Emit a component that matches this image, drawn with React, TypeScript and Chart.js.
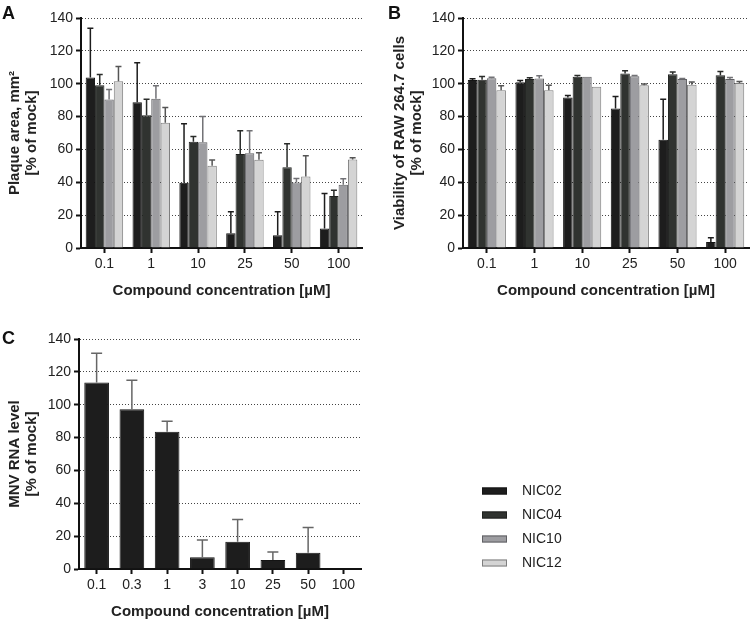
import React, { useEffect, useRef } from "react";
import { Chart, registerables } from "chart.js";

Chart.register(...registerables);

const FONT = "'Liberation Sans', Arial, Helvetica, sans-serif";

// ---- series ----
const seriesNames = ["NIC02", "NIC04", "NIC10", "NIC12"];
const seriesFill = ["#1d1d1d", "#303330", "#9d9da1", "#d4d4d4"];
const seriesBorder = ["#141414", "#1f211f", "#606064", "#7e7e7e"];
const seriesError = ["#1d1d1d", "#2a2c2a", "#727276", "#555555"];

// ---- categories ----
const concentrationsAB = ["0.1", "1", "10", "25", "50", "100"];
const concentrationsC = ["0.1", "0.3", "1", "3", "10", "25", "50", "100"];

// ---- panel A: plaque area [% of mock] ----
const plaqueNIC02 = [103.8, 88.7, 39.7, 9.0, 7.7, 11.8];
const plaqueNIC04 = [99.1, 80.8, 64.7, 57.2, 49.2, 31.7];
const plaqueNIC10 = [90.4, 90.8, 64.3, 57.6, 39.9, 38.5];
const plaqueNIC12 = [101.5, 76.3, 50.1, 53.7, 43.5, 53.9];
const plaqueErrNIC02 = [29.9, 24.0, 36.0, 13.0, 14.3, 21.4];
const plaqueErrNIC04 = [6.5, 9.8, 3.1, 14.2, 14.3, 3.5];
const plaqueErrNIC10 = [6.1, 7.9, 15.7, 13.8, 2.4, 3.6];
const plaqueErrNIC12 = [9.0, 9.2, 3.4, 4.3, 12.7, 1.0];

// ---- panel B: viability [% of mock] ----
const viabilityNIC02 = [102.2, 100.9, 91.6, 84.9, 65.9, 3.7];
const viabilityNIC04 = [102.4, 102.8, 104.2, 106.2, 105.8, 105.2];
const viabilityNIC10 = [103.4, 103.2, 104.2, 104.6, 102.8, 102.8];
const viabilityNIC12 = [96.0, 96.0, 98.1, 99.1, 99.3, 100.5];
const viabilityErrNIC02 = [0.8, 1.1, 1.2, 7.3, 24.7, 2.6];
const viabilityErrNIC04 = [2.0, 0.8, 0.8, 1.7, 1.4, 2.2];
const viabilityErrNIC10 = [0.6, 1.6, 0.0, 0.4, 0.4, 1.0];
const viabilityErrNIC12 = [2.7, 3.0, 0.0, 0.8, 1.7, 0.8];

// ---- panel C: MNV RNA level [% of mock], NIC02 ----
const rnaNIC02 = [113.5, 97.2, 83.5, 7.1, 16.6, 5.5, 9.9, 0];
const rnaErrNIC02 = [17.8, 17.7, 6.5, 10.5, 13.6, 4.8, 15.4, 0];

// ---- axis ----
const yMin = 0;
const yMax = 140;
const yStep = 20;

const xTitle = "Compound concentration [µM]";
const yTitleA = ["Plaque area, mm²", "[% of mock]"];
const yTitleB = ["Viability of RAW 264.7 cells", "[% of mock]"];
const yTitleC = ["MNV RNA level", "[% of mock]"];

const errorBarsPlugin = {
  id: "errorBars",
  afterDatasetsDraw(chart: any, _args: any, opts: any) {
    const ctx = chart.ctx;
    const yScale = chart.scales.y;
    chart.data.datasets.forEach((ds: any, di: number) => {
      const meta = chart.getDatasetMeta(di);
      if (!ds.errors) return;
      meta.data.forEach((el: any, i: number) => {
        const v = ds.data[i];
        const e = ds.errors[i];
        if (!e || !v) return;
        const yTop = yScale.getPixelForValue(v + e);
        const x = el.x;
        ctx.save();
        ctx.strokeStyle = ds.errorColor || "#222";
        ctx.lineWidth = opts.lineWidth || 1.5;
        ctx.beginPath();
        ctx.moveTo(x, el.y);
        ctx.lineTo(x, yTop);
        ctx.moveTo(x - opts.capWidth / 2, yTop);
        ctx.lineTo(x + opts.capWidth / 2, yTop);
        ctx.stroke();
        ctx.restore();
      });
    });
  },
};

const seriesKeyPlugin = {
  id: "seriesKey",
  afterDraw(chart: any, _args: any, opts: any) {
    if (!opts || !opts.items) return;
    const ctx = chart.ctx;
    ctx.save();
    opts.items.forEach((it: any, i: number) => {
      const y = opts.y + i * opts.step;
      ctx.fillStyle = it.fill;
      ctx.fillRect(opts.x, y - 3.5, 25, 7);
      ctx.strokeStyle = it.border;
      ctx.lineWidth = 1;
      ctx.strokeRect(opts.x + 0.5, y - 3, 24, 6);
      ctx.fillStyle = "#222";
      ctx.font = `14px ${FONT}`;
      ctx.textBaseline = "middle";
      ctx.textAlign = "left";
      ctx.fillText(it.text, opts.x + 40, y);
    });
    ctx.restore();
  },
};

function makeDataset(i: number, data: number[], errors: number[]) {
  return {
    label: seriesNames[i],
    data,
    errors,
    errorColor: seriesError[i],
    backgroundColor: seriesFill[i],
    borderColor: seriesBorder[i],
    borderWidth: 1,
  };
}

function makeOptions(p: any) {
  return {
    responsive: false,
    animation: false,
    layout: { padding: p.padding },
    plugins: {
      legend: { display: false },
      tooltip: { enabled: false },
      errorBars: { capWidth: p.capWidth, lineWidth: 1.5 },
      seriesKey: p.key || {},
    },
    datasets: {
      bar: { categoryPercentage: p.catPct, barPercentage: 1 },
    },
    scales: {
      x: {
        type: "category",
        offset: true,
        grid: {
          display: true,
          drawOnChartArea: false,
          drawTicks: true,
          offset: false,
          tickLength: 5,
          tickColor: "#111",
          tickWidth: 2,
        },
        border: { display: true, color: "#111", width: 2 },
        ticks: {
          color: "#222",
          font: { family: FONT, size: 14 },
          padding: 3,
          maxRotation: 0,
          autoSkip: false,
        },
        title: {
          display: true,
          text: xTitle,
          color: "#222",
          font: { family: FONT, size: 15, weight: "bold", lineHeight: 1.1 },
          padding: { top: 0, bottom: p.xTitlePad },
        },
        afterFit: (s: any) => {
          s.height = p.xHeight;
        },
      },
      y: {
        min: yMin,
        max: yMax,
        ticks: {
          stepSize: yStep,
          color: "#222",
          font: { family: FONT, size: 14 },
          padding: 3,
        },
        grid: {
          color: "#444",
          lineWidth: 1,
          drawTicks: true,
          tickLength: 5,
          tickColor: "#111",
          tickWidth: 2,
        },
        border: { display: true, color: "#111", width: 2, dash: [1, 2] },
        title: {
          display: true,
          text: p.yTitle,
          color: "#222",
          font: { family: FONT, size: 15, weight: "bold", lineHeight: 1.1 },
          padding: { top: p.yTitlePad, bottom: 0 },
        },
        afterFit: (s: any) => {
          s.width = p.yWidth;
        },
      },
    },
  };
}

function Panel(props: { left: number; top: number; width: number; height: number; build: () => any }) {
  const ref = useRef<HTMLCanvasElement | null>(null);
  useEffect(() => {
    if (!ref.current) return;
    const chart = new Chart(ref.current, props.build());
    return () => chart.destroy();
  }, []);
  return (
    <canvas
      ref={ref}
      width={props.width}
      height={props.height}
      style={{
        position: "absolute",
        left: props.left,
        top: props.top,
        width: props.width,
        height: props.height,
      }}
    />
  );
}

const letterStyle = (left: number, top: number): React.CSSProperties => ({
  position: "absolute",
  left,
  top,
  fontFamily: FONT,
  fontWeight: "bold",
  fontSize: 18,
  color: "#111",
  lineHeight: "20px",
});

export default function App() {
  const buildA = () => ({
    type: "bar",
    data: {
      labels: concentrationsAB,
      datasets: [
        makeDataset(0, plaqueNIC02, plaqueErrNIC02),
        makeDataset(1, plaqueNIC04, plaqueErrNIC04),
        makeDataset(2, plaqueNIC10, plaqueErrNIC10),
        makeDataset(3, plaqueNIC12, plaqueErrNIC12),
      ],
    },
    options: makeOptions({
      padding: { left: 0, top: 18, right: 13, bottom: 0 },
      yWidth: 81,
      xHeight: 52,
      yTitle: yTitleA,
      yTitlePad: 7,
      xTitlePad: 1,
      catPct: 0.8,
      capWidth: 6,
    }),
    plugins: [errorBarsPlugin],
  });

  const buildB = () => ({
    type: "bar",
    data: {
      labels: concentrationsAB,
      datasets: [
        makeDataset(0, viabilityNIC02, viabilityErrNIC02),
        makeDataset(1, viabilityNIC04, viabilityErrNIC04),
        makeDataset(2, viabilityNIC10, viabilityErrNIC10),
        makeDataset(3, viabilityNIC12, viabilityErrNIC12),
      ],
    },
    options: makeOptions({
      padding: { left: 0, top: 18, right: 1, bottom: 0 },
      yWidth: 88,
      xHeight: 52,
      yTitle: yTitleB,
      yTitlePad: 17,
      xTitlePad: 1,
      catPct: 0.8,
      capWidth: 6,
    }),
    plugins: [errorBarsPlugin],
  });

  const buildC = () => ({
    type: "bar",
    data: {
      labels: concentrationsC,
      datasets: [
        {
          ...makeDataset(0, rnaNIC02, rnaErrNIC02),
          errorColor: "#666666",
        },
      ],
    },
    options: makeOptions({
      padding: { left: 0, top: 39, right: 389, bottom: 0 },
      yWidth: 79,
      xHeight: 53,
      yTitle: yTitleC,
      yTitlePad: 7,
      xTitlePad: 2,
      catPct: 0.7,
      capWidth: 11,
      key: {
        x: 482,
        y: 191,
        step: 24,
        items: seriesNames.map((n, i) => ({ text: n, fill: seriesFill[i], border: seriesBorder[i] })),
      },
    }),
    plugins: [errorBarsPlugin, seriesKeyPlugin],
  });

  return (
    <div style={{ position: "absolute", left: 0, top: 0, width: 750, height: 622, background: "#fff" }}>
      <Panel left={0} top={0} width={375} height={300} build={buildA} />
      <Panel left={375} top={0} width={375} height={300} build={buildB} />
      <Panel left={0} top={300} width={750} height={322} build={buildC} />
      <div style={letterStyle(2, 3)}>A</div>
      <div style={letterStyle(388, 3)}>B</div>
      <div style={letterStyle(2, 328)}>C</div>
    </div>
  );
}
